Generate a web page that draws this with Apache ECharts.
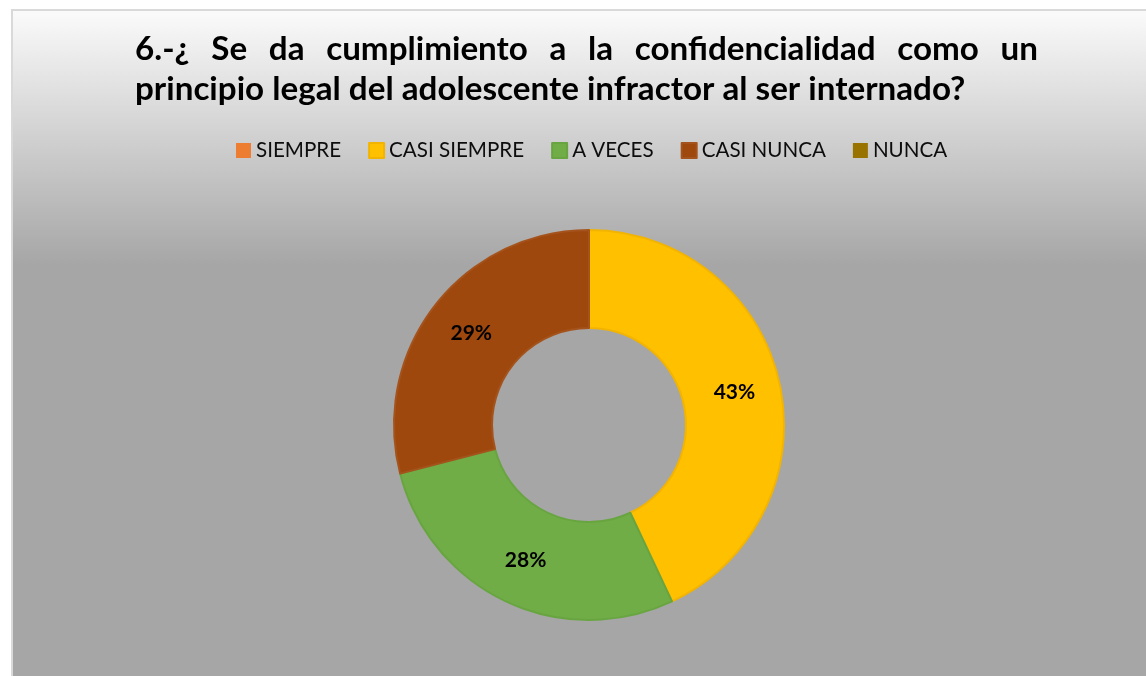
<!DOCTYPE html>
<html>
<head>
<meta charset="utf-8">
<script src="https://cdn.jsdelivr.net/npm/echarts@6/dist/echarts.min.js"></script>
<style>
html,body{margin:0;padding:0;background:#ffffff;}
#c{width:1146px;height:676px;}
</style>
</head>
<body>
<div id="c"></div>
<script>
const categories = ['SIEMPRE', 'CASI SIEMPRE', 'A VECES', 'CASI NUNCA', 'NUNCA'];
const values = [0, 43, 28, 29, 0];
const colors = ['#ED7D31', '#FFC000', '#70AD47', '#9E480E', '#997300'];
const borderColors = ['#ED7D31', '#F2B400', '#68A540', '#A5531C', '#997300'];
const titleLine1 = '6.-¿ Se da cumplimiento a la confidencialidad como un';
const titleLine2 = 'principio legal del adolescente infractor al ser internado?';

const FONT = 'Lato';
const cv = document.createElement('canvas').getContext('2d');
function measure(txt, size, weight) {
  cv.font = (weight || 'normal') + ' ' + size + 'px ' + FONT;
  return cv.measureText(txt).width;
}

// title sizing: line 2 spans ~830px in the reference
const tLeft = 135, tRight = 1038;
let tSize = 30 * 830 / measure(titleLine2, 30, 'bold');
tSize = Math.round(tSize * 10) / 10;
const words = titleLine1.split(' ');
const wW = words.map(w => measure(w, tSize, 'bold'));
const gap = (tRight - tLeft - wW.reduce((a, b) => a + b, 0)) / (words.length - 1);
const graphics = [{
  type: 'rect', z: -10, silent: true,
  shape: { x: 12, y: 10, width: 1140, height: 672 },
  style: {
    fill: new echarts.graphic.LinearGradient(0, 0, 0, 1, [
      { offset: 0, color: '#fbfbfb' },
      { offset: 0.38, color: '#a6a6a6' },
      { offset: 1, color: '#a6a6a6' }
    ]),
    stroke: '#d9d9d9', lineWidth: 2
  }
}];
let x = tLeft;
words.forEach((w, i) => {
  graphics.push({
    type: 'text', x: x, y: 49, silent: true,
    style: { text: w, fill: '#000', font: 'bold ' + tSize + 'px ' + FONT, verticalAlign: 'middle', align: 'left' }
  });
  x += wW[i] + gap;
});
graphics.push({
  type: 'text', x: tLeft, y: 89, silent: true,
  style: { text: titleLine2, fill: '#000', font: 'bold ' + tSize + 'px ' + FONT, verticalAlign: 'middle', align: 'left' }
});

// legend sizing: "SIEMPRE" ~85px wide
let lSize = 20 * 85 / measure('SIEMPRE', 20, 'normal');
lSize = Math.round(lSize * 10) / 10;

const chart = echarts.init(document.getElementById('c'), null, { renderer: 'canvas' });
chart.setOption({
  animation: false,
  backgroundColor: 'transparent',
  graphic: graphics,
  legend: {
    left: 236, top: 140, padding: 0,
    itemWidth: 15, itemHeight: 15, itemGap: 27,
    icon: 'rect',
    textStyle: { fontFamily: FONT, fontSize: lSize, color: '#0d0d0d' },
    data: categories
  },
  series: [{
    type: 'pie',
    center: [589, 425],
    radius: [97, 195],
    startAngle: 90,
    clockwise: true,
    avoidLabelOverlap: false,
    emphasis: { disabled: true },
    label: {
      show: true, position: 'inside',
      formatter: p => (p.value ? p.value + '%' : ''),
      fontFamily: FONT, fontWeight: 'bold', fontSize: 21, color: '#000'
    },
    labelLine: { show: false },
    data: categories.map((c, i) => ({
      name: c, value: values[i],
      itemStyle: { color: colors[i], borderColor: borderColors[i], borderWidth: values[i] ? 2 : 0 }
    }))
  }]
});
</script>
</body>
</html>
